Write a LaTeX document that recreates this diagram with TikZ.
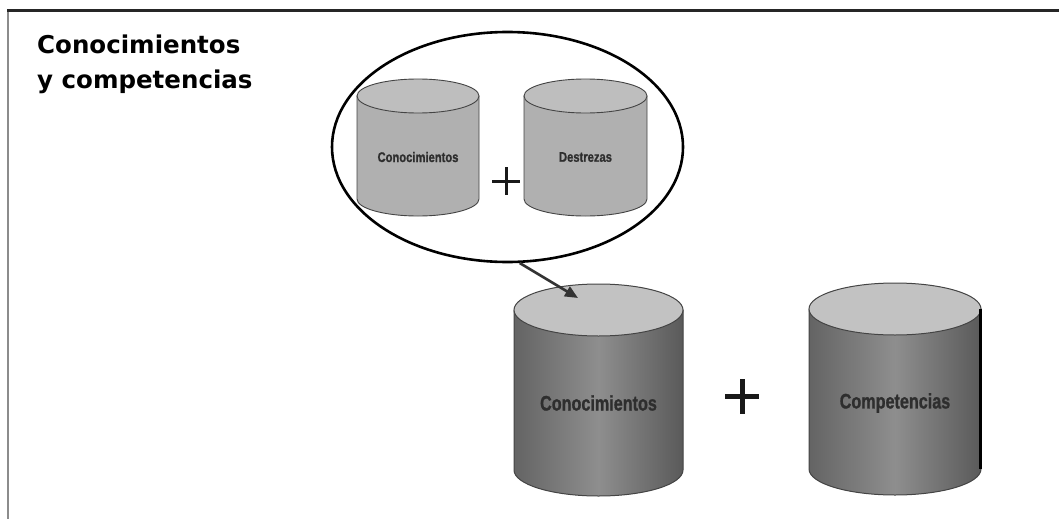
\documentclass[tikz,border=0pt]{standalone}
\usepackage{fontspec}
\setmainfont{DejaVu Sans}
\newfontfamily\labfont[FakeBold=1.2]{Liberation Sans}
\usetikzlibrary{arrows.meta,shapes.geometric}
\definecolor{edge}{HTML}{444444}
\definecolor{smallside}{HTML}{B0B0B0}
\definecolor{smalltop}{HTML}{BEBEBE}
\definecolor{bigtop}{HTML}{C2C2C2}
\definecolor{bigmid}{HTML}{8E8E8E}
\definecolor{bigdark}{HTML}{646464}
\definecolor{labcol}{HTML}{2E2E2E}
% cx, rx, ty, by, ry, side style, top style
\newcommand\drawcyl[7]{%
  \path[#6] (#1-#2,#3) -- (#1-#2,#4) arc[start angle=180,end angle=0,x radius=#2,y radius=#5] -- (#1+#2,#3) -- cycle;
  \path[#7] (#1,#3) ellipse[x radius=#2,y radius=#5];
}
\begin{document}
\begin{tikzpicture}[x=1pt,y=-1pt,
  frame/.style={line width=3pt,draw=black!85},
  sideframe/.style={line width=1.6pt,draw=black!45},
  smallside/.style={fill=smallside,draw=edge,line width=0.9pt},
  smalltopst/.style={fill=smalltop,draw=edge,line width=0.9pt},
  bigside/.style={left color=bigdark,right color=bigdark!90!black,middle color=bigmid,draw=edge,line width=1pt},
  bigtopst/.style={fill=bigtop,draw=edge,line width=1pt},
  smalllab/.style={font=\labfont\bfseries\fontsize{14}{16}\selectfont,text=labcol,xscale=0.8,inner sep=0pt},
  biglab/.style={font=\labfont\bfseries\fontsize{21}{24}\selectfont,text=labcol,xscale=0.77,inner sep=0pt},
  titlest/.style={font=\bfseries\fontsize{24.5}{30}\selectfont,anchor=base west,inner sep=0pt},
  plusbig/.style={line width=5pt,draw=black!90},
  plussmall/.style={line width=3pt,draw=black!90},
  zoomst/.style={draw=black,line width=2.6pt,ellipse,minimum width=351pt,minimum height=230pt,inner sep=0pt},
  arr/.style={draw=black!80,line width=2.6pt,-{Triangle[length=13pt,width=11pt]}}
]
\useasboundingbox (0,0) rectangle (1059,519);
\fill[white] (0,0) rectangle (1059,519);
% frame
\draw[sideframe] (8,10) -- (8,519);
\draw[frame] (7,10.5) -- (1059,10.5);
% title
\node[titlest] (t1) at (37,53) {Conocimientos};
\node[titlest] (t2) at (37,88) {y competencias};
% small cylinders
\drawcyl{418}{61}{96}{199}{17}{smallside}{smalltopst}
\drawcyl{585.5}{61.5}{96}{199}{17}{smallside}{smalltopst}
\node[smalllab] (sk) at (418,157) {Conocimientos};
\node[smalllab] (sd) at (585.5,157) {Destrezas};
\draw[plussmall] (492,181) -- (520,181) (506,167) -- (506,195);
% zoom ellipse
\node[zoomst] (zoom) at (507.5,147) {};
% big cylinders
\drawcyl{598.5}{84.5}{310}{470}{26}{bigside}{bigtopst}
\drawcyl{895}{86}{309}{469}{26}{bigside}{bigtopst}
\draw[line width=2.5pt,black] (980.5,309) -- (980.5,469);
\node[biglab] (bk) at (598.5,403) {Conocimientos};
\node[biglab] (bc) at (895,403) {Competencias};
\draw[plusbig] (725,396) -- (759,396) (742,379) -- (742,414);
% arrow
\coordinate (tip) at (578,298);
\draw[arr] (zoom.-84) -- (tip);
\end{tikzpicture}
\end{document}
